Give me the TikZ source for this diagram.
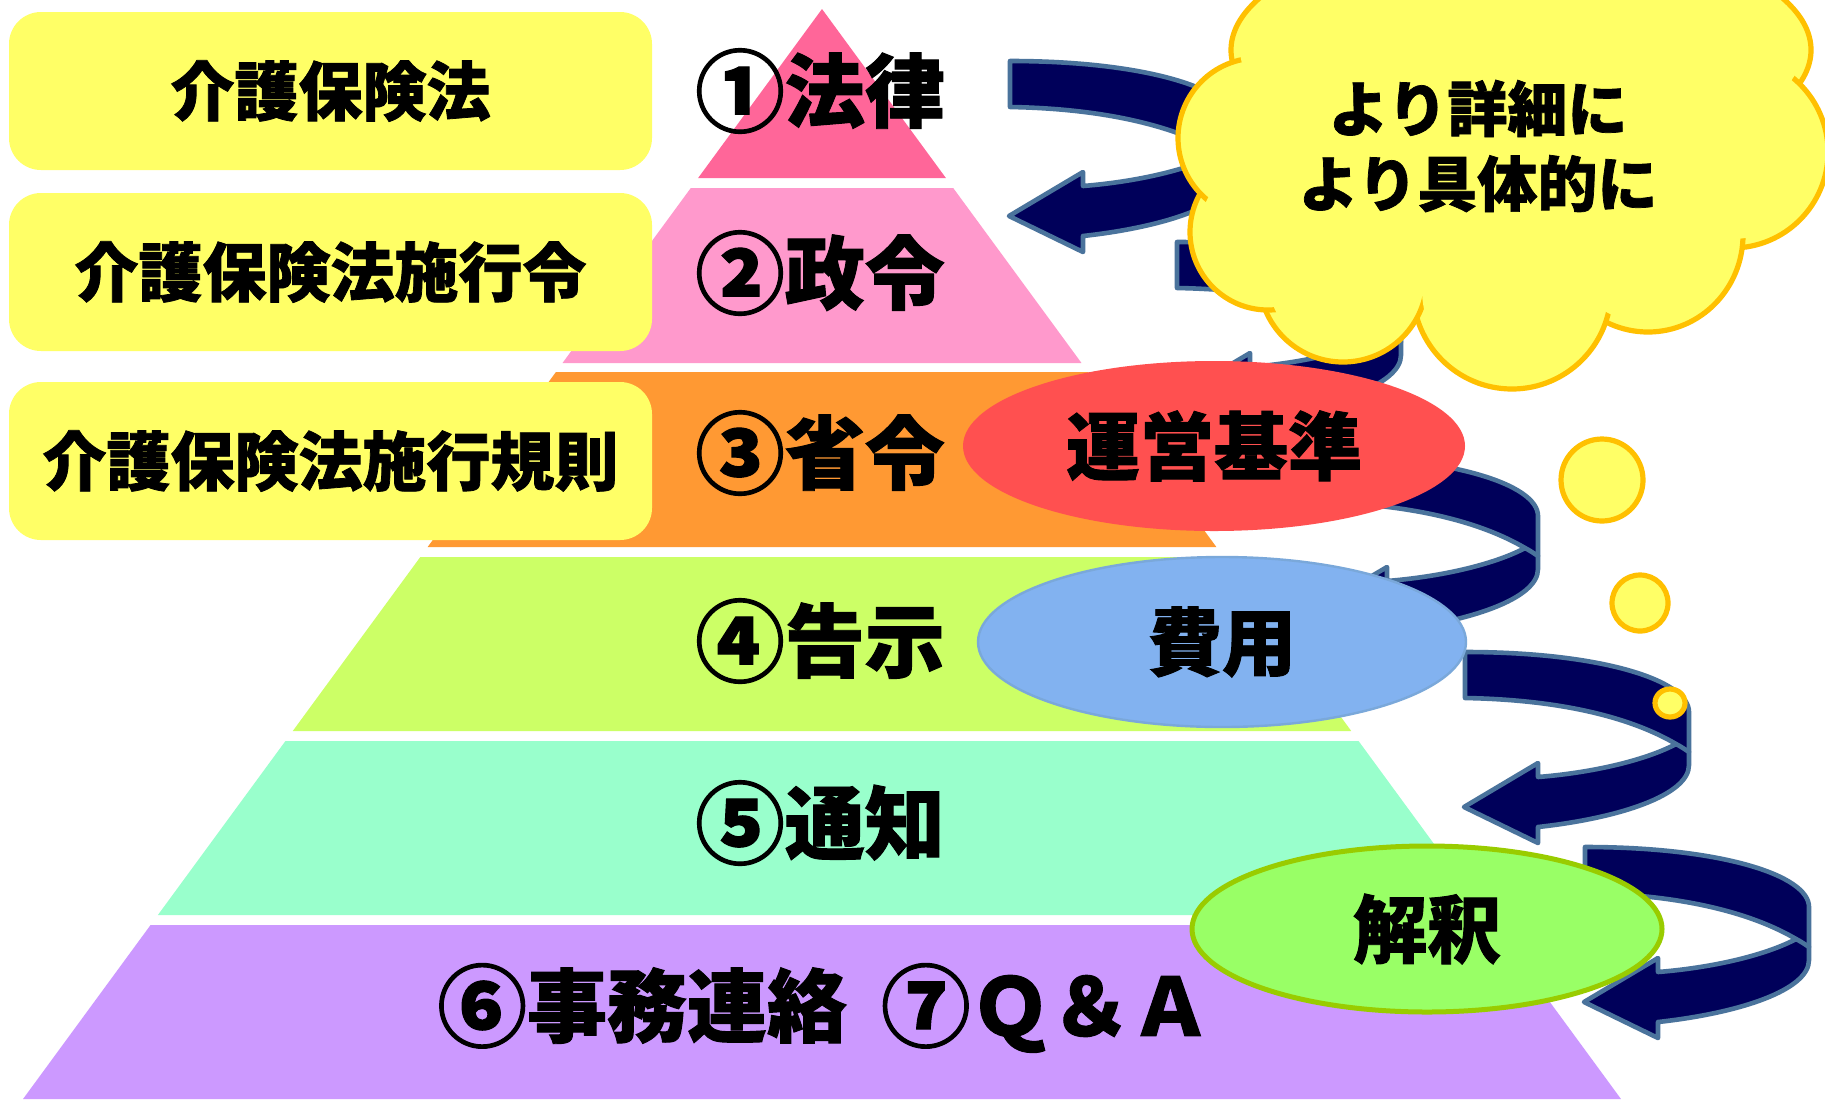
\documentclass[tikz,border=0pt]{standalone}
\usepackage{fontspec}
\setmainfont{Noto Sans CJK JP}[BoldFeatures={FakeBold=1.2}]
\usetikzlibrary{shapes.geometric}
\definecolor{boxyellow}{HTML}{FFFF66}
\definecolor{cloudedge}{HTML}{FFC000}
\definecolor{pyrA}{HTML}{FF6699}
\definecolor{pyrB}{HTML}{FF99CC}
\definecolor{pyrC}{HTML}{FF9933}
\definecolor{pyrD}{HTML}{CCFF66}
\definecolor{pyrE}{HTML}{99FFCC}
\definecolor{pyrF}{HTML}{CC99FF}
\definecolor{navyfill}{HTML}{00005A}
\definecolor{steeledge}{HTML}{4A739C}
\definecolor{redell}{HTML}{FF5050}
\definecolor{blueell}{HTML}{82B2F0}
\definecolor{blueedge}{HTML}{7AA8DA}
\definecolor{greenell}{HTML}{99FF66}
\definecolor{greenedge}{HTML}{99CC00}
\newcommand\cnum[1]{\raisebox{-0.05em}{\scalebox{1.12}{#1}}}
\tikzset{
  lbl/.style={font=\bfseries\fontsize{40pt}{40pt}\selectfont, inner sep=0pt},
  boxlbl/.style={fill=boxyellow, rounded corners=16pt, minimum width=321.5pt, minimum height=79pt,
    font=\bfseries\fontsize{32pt}{32pt}\selectfont, inner sep=0pt},
  ellbl/.style={ellipse, inner sep=0pt, font=\bfseries\fontsize{37pt}{37pt}\selectfont},
  ribbonsty/.style={fill=navyfill, draw=steeledge, line width=2.3pt, line join=round},
  ribbonedge/.style={draw=steeledge, line width=2.3pt, line cap=round},
  lobeline/.style={fill=boxyellow, draw=cloudedge, line width=2.6pt},
  lobefill/.style={fill=boxyellow},
  bubble/.style={fill=boxyellow, draw=cloudedge, line width=2.6pt},
}
\newcommand\pyrlayer[3]{%
  \fill[#3] ({822-0.733*(#1-9)},#1) -- ({822+0.733*(#1-9)},#1) -- ({822+0.733*(#2-9)},#2) -- ({822-0.733*(#2-9)},#2) -- cycle;}
\newcommand\ribbonarrow[2]{%
  \begin{scope}[shift={(#1,#2)}]
  \filldraw[ribbonsty] (0,0) .. controls (135,0) and (224,28) .. (224,60) -- (224,113)
    .. controls (224,143) and (155,166) .. (73,175) -- (73,191) -- (-1,155) -- (73,111) -- (73,125)
    .. controls (135,120) and (185,106) .. (211,92)
    .. controls (170.6,68.2) and (103.5,47.8) .. (0,46) -- cycle;
  \draw[ribbonedge] (211,92) .. controls (216,94.6) and (220,97.3) .. (224,100);
  \end{scope}}
\newcommand\lobeset[1]{%
  \path[#1] (1521,50) ellipse [x radius=145pt-\lobeshrink, y radius=60pt-\lobeshrink];
  \path[#1] (1732,152) ellipse [x radius=48pt-\lobeshrink, y radius=48pt-\lobeshrink];
  \path[#1] (1648,235) ellipse [x radius=47.5pt-\lobeshrink, y radius=48.5pt-\lobeshrink];
  \path[#1] (1512,290) ellipse [x radius=49.5pt-\lobeshrink, y radius=49.5pt-\lobeshrink];
  \path[#1] (1343,278) ellipse [x radius=42pt-\lobeshrink, y radius=42pt-\lobeshrink];
  \path[#1] (1268,232) ellipse [x radius=39pt-\lobeshrink, y radius=39pt-\lobeshrink];
  \path[#1] (1258,138) ellipse [x radius=40pt-\lobeshrink, y radius=40pt-\lobeshrink];}
\def\lobeshrink{0pt}
\begin{document}
\begin{tikzpicture}[x=0.5pt,y=-0.5pt]
\useasboundingbox (0,0) rectangle (1825,1099);
\begin{scope}
\clip (0,0) rectangle (1825,1099);
\fill[white] (0,0) rectangle (1825,1099);
% pyramid
\pyrlayer{9}{178}{pyrA}
\pyrlayer{188}{363}{pyrB}
\pyrlayer{372}{547}{pyrC}
\pyrlayer{557}{731}{pyrD}
\pyrlayer{741}{915}{pyrE}
\pyrlayer{925}{1099}{pyrF}
% left boxes
\node[boxlbl] (law) at (330.5,91) {介護保険法};
\node[boxlbl] (order) at (330.5,272) {介護保険法施行令};
\node[boxlbl] (rule) at (330.5,461) {介護保険法施行規則};
% layer labels
\node[lbl] (l1) at (820,91) {\cnum{①}法律};
\node[lbl] (l2) at (820,273) {\cnum{②}政令};
\node[lbl] (l3) at (820,453) {\cnum{③}省令};
\node[lbl] (l4) at (820,641) {\cnum{④}告示};
\node[lbl] (l5) at (820,823) {\cnum{⑤}通知};
\node[lbl] (l6) at (824,1008) {\cnum{⑥}事務連絡\hspace{17pt}\cnum{⑦}Ｑ＆Ａ};
% ribbons
\ribbonarrow{1010}{61}
\ribbonarrow{1177}{242}
\ribbonarrow{1314}{456}
\ribbonarrow{1465}{652}
\ribbonarrow{1585}{847}
% ellipses
\node[ellbl, fill=redell, minimum width=251pt, minimum height=85pt] (unei) at (1214,446) {運営基準};
\node[ellbl, fill=blueell, draw=blueedge, line width=1.2pt, minimum width=244pt, minimum height=85pt] (hiyo) at (1222,642) {費用};
\node[ellbl, fill=greenell, draw=greenedge, line width=2.5pt, minimum width=235pt, minimum height=83pt] (kaishaku) at (1427,929) {解釈};
% cloud
\lobeset{lobeline}
\fill[boxyellow] (1521,50) -- (1732,152) -- (1648,235) -- (1512,290) -- (1343,278) -- (1268,232) -- (1258,138) -- cycle;
\def\lobeshrink{4.5pt}
\lobeset{lobefill}
\node[align=center, inner sep=0pt, font=\bfseries\fontsize{30pt}{37.5pt}\selectfont] (cloudtxt) at (1478,146) {より詳細に\\より具体的に};
% bubbles
\path[bubble] (1602,480) ellipse [x radius=20.5pt, y radius=20.5pt];
\path[bubble] (1640,603) ellipse [x radius=14pt, y radius=14pt];
\path[bubble] (1670,703) ellipse [x radius=7.5pt, y radius=7pt];
\end{scope}
\end{tikzpicture}
\end{document}
